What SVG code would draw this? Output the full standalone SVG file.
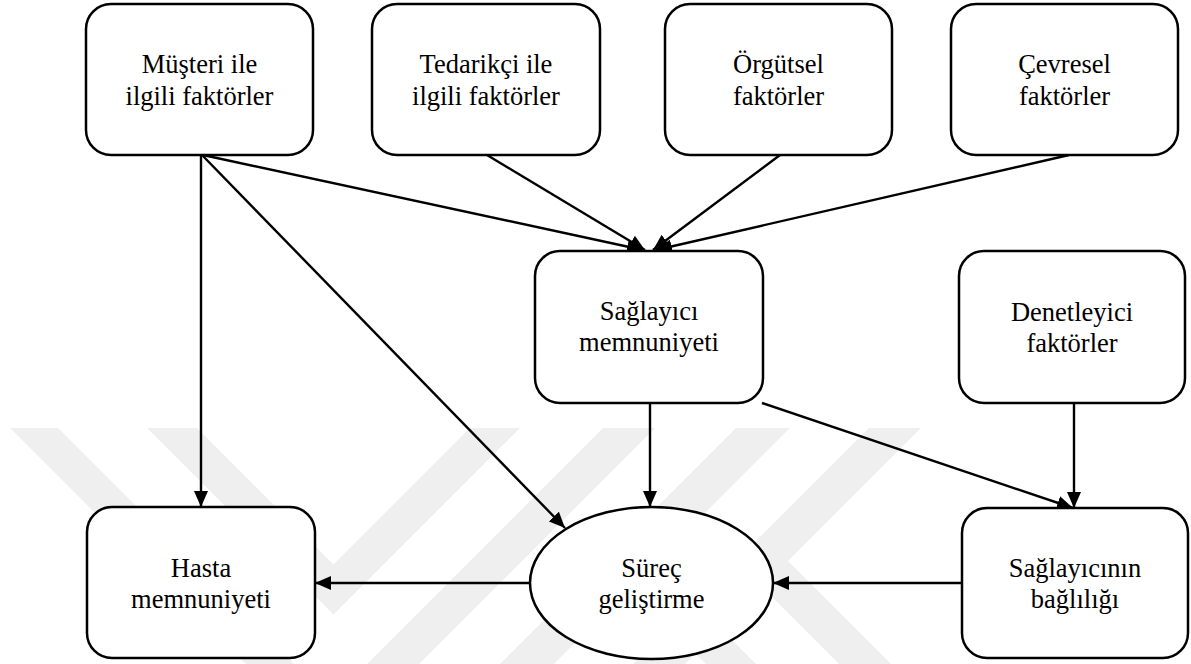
<svg xmlns="http://www.w3.org/2000/svg" width="1191" height="664" viewBox="0 0 1191 664">
  <style>
    .node { fill: #ffffff; stroke: #000000; stroke-width: 2.5; }
    text { font-family: 'Liberation Serif', 'Times New Roman', serif; font-size: 26.5px; fill: #000000; text-anchor: middle; }
    .edge { fill: none; stroke: #000000; stroke-width: 2.4; }
    .wm { fill: #efefef; stroke: none; }
  </style>
  <defs>
    <marker id="arrow" viewBox="0 0 16 14" refX="16" refY="7" markerWidth="16" markerHeight="14" markerUnits="userSpaceOnUse" orient="auto">
      <path d="M0,0 L16,7 L0,14 Z" fill="#000000"/>
    </marker>
  </defs>
  <rect width="1191" height="664" fill="#ffffff"/>
  <g id="watermark">
    <polygon class="wm" points="147,428 197,428 333.5,564.5 470,428 520,428 333.5,614.5"/>
    <polygon class="wm" points="10,428 58,428 294,664 246,664"/>
    <polygon class="wm" points="603,428 655,428 419,664 367,664"/>
    <polygon class="wm" points="736,428 790,428 554,664 500,664"/>
    <polygon class="wm" points="869,428 921,428 685,664 633,664"/>
    <polygon class="wm" points="655,563 756,664 706,664 630,588"/>
    <polygon class="wm" points="788,561 891,664 839,664 762,587"/>
  </g>
  <g id="connectors">
    <line class="edge" x1="201" y1="155" x2="201" y2="507" marker-end="url(#arrow)"/>
    <line class="edge" x1="202" y1="155" x2="565" y2="528" marker-end="url(#arrow)"/>
    <line class="edge" x1="203" y1="155" x2="643" y2="250" marker-end="url(#arrow)"/>
    <line class="edge" x1="487" y1="155" x2="645" y2="250" marker-end="url(#arrow)"/>
    <line class="edge" x1="780" y1="155" x2="653" y2="250" marker-end="url(#arrow)"/>
    <line class="edge" x1="1069" y1="155" x2="656" y2="250" marker-end="url(#arrow)"/>
    <line class="edge" x1="650" y1="403" x2="650" y2="507" marker-end="url(#arrow)"/>
    <line class="edge" x1="762" y1="403" x2="1073" y2="508" marker-end="url(#arrow)"/>
    <line class="edge" x1="1074" y1="403" x2="1074" y2="508" marker-end="url(#arrow)"/>
    <line class="edge" x1="962" y1="583" x2="773" y2="583" marker-end="url(#arrow)"/>
    <line class="edge" x1="530" y1="583" x2="315" y2="583" marker-end="url(#arrow)"/>
  </g>
  <g id="musteri">
    <rect class="node" x="86" y="4" width="227" height="151" rx="25" ry="25"/>
    <text x="199.5" y="73">Müşteri ile</text>
    <text x="199.5" y="105">ilgili faktörler</text>
  </g>
  <g id="tedarikci">
    <rect class="node" x="372" y="4" width="228" height="151" rx="25" ry="25"/>
    <text x="486" y="73">Tedarikçi ile</text>
    <text x="486" y="105">ilgili faktörler</text>
  </g>
  <g id="orgutsel">
    <rect class="node" x="665" y="4" width="227" height="151" rx="25" ry="25"/>
    <text x="778.5" y="73">Örgütsel</text>
    <text x="778.5" y="105">faktörler</text>
  </g>
  <g id="cevresel">
    <rect class="node" x="951" y="4" width="227" height="151" rx="25" ry="25"/>
    <text x="1064.5" y="73">Çevresel</text>
    <text x="1064.5" y="105">faktörler</text>
  </g>
  <g id="saglayici">
    <rect class="node" x="535" y="251" width="228" height="152" rx="25" ry="25"/>
    <text x="649" y="320">Sağlayıcı</text>
    <text x="649" y="351">memnuniyeti</text>
  </g>
  <g id="denetleyici">
    <rect class="node" x="959" y="251" width="226" height="152" rx="25" ry="25"/>
    <text x="1072" y="321">Denetleyici</text>
    <text x="1072" y="352">faktörler</text>
  </g>
  <g id="hasta">
    <rect class="node" x="87" y="507" width="228" height="151" rx="25" ry="25"/>
    <text x="201" y="577">Hasta</text>
    <text x="201" y="608">memnuniyeti</text>
  </g>
  <g id="surec">
    <ellipse class="node" cx="651.5" cy="583" rx="121.5" ry="76"/>
    <text x="651.5" y="577">Süreç</text>
    <text x="651.5" y="608">geliştirme</text>
  </g>
  <g id="baglilik">
    <rect class="node" x="962" y="508" width="226" height="150" rx="25" ry="25"/>
    <text x="1075" y="577">Sağlayıcının</text>
    <text x="1075" y="608">bağlılığı</text>
  </g>
</svg>
